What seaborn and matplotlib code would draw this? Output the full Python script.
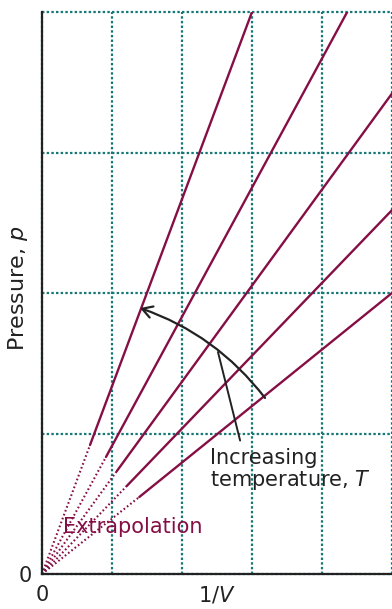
import numpy as np
import pandas as pd
import matplotlib
matplotlib.use("Agg")
import matplotlib.pyplot as plt
import seaborn as sns

# Isotherms: solid segment start (end of extrapolation) and end points
line_id = ["T1", "T2", "T3", "T4", "T5"]
solid_start_x = [0.686, 0.914, 1.07, 1.21, 1.39]
solid_start_p = [0.918, 0.833, 0.733, 0.626, 0.548]
solid_end_x = [3.0, 4.36, 5.0, 5.0, 5.0]
solid_end_p = [4.0, 4.0, 3.42, 2.59, 2.0]
origin_x = [0, 0, 0, 0, 0]
origin_p = [0, 0, 0, 0, 0]

x_ticks = [0, 1, 2, 3, 4, 5]
x_tick_labels = ["0", "", "", "", "", ""]
y_ticks = [0, 1, 2, 3, 4]
y_tick_labels = ["0", "", "", "", ""]

LINE = "#850f45"
GRID = "#187878"
INK = "#222222"

sns.set_theme(style="white")
plt.rcParams['font.family'] = ['DejaVu Sans']

solid = pd.DataFrame({
    "x": solid_start_x + solid_end_x,
    "p": solid_start_p + solid_end_p,
    "line": line_id + line_id,
})
extrap = pd.DataFrame({
    "x": origin_x + solid_start_x,
    "p": origin_p + solid_start_p,
    "line": line_id + line_id,
})

fig = plt.figure(figsize=(3.92, 6.09), dpi=100)
ax = fig.add_axes([42/392, 35/609, 350/392, 562/609])

sns.lineplot(data=solid, x="x", y="p", units="line", estimator=None,
             color=LINE, lw=1.7, ax=ax, sort=False, zorder=3)
sns.lineplot(data=extrap, x="x", y="p", units="line", estimator=None,
             color=LINE, lw=1.5, ax=ax, sort=False, zorder=3,
             linestyle=(0, (0.8, 1.2)))

ax.set_xlim(0, 5)
ax.set_ylim(0, 4)
ax.set_xticks(x_ticks)
ax.set_xticklabels(x_tick_labels, fontsize=15)
ax.set_yticks(y_ticks)
ax.set_yticklabels(y_tick_labels, fontsize=15)
ax.tick_params(axis="both", length=0, colors=INK)
ax.tick_params(axis="x", pad=8)
ax.tick_params(axis="y", pad=7)

ax.grid(True, color=GRID, lw=1.6, linestyle=(0, (1.1, 1.0)))
for gl in ax.get_xgridlines() + ax.get_ygridlines():
    gl.set_clip_on(False)
ax.set_axisbelow(True)

for s in ["top", "right"]:
    ax.spines[s].set_visible(False)
for s in ["left", "bottom"]:
    ax.spines[s].set_color(INK)
    ax.spines[s].set_linewidth(1.6)
    ax.spines[s].set_zorder(4)

ax.set_xlabel("1/$\\it{V}$", fontsize=15, color=INK)
ax.xaxis.set_label_coords(0.5, -0.018)
ax.set_ylabel("Pressure, $\\it{p}$", fontsize=16, color=INK)
ax.yaxis.set_label_coords(-0.034, 0.509)

ax.text(0.3, 0.335, "Extrapolation", fontsize=15, color=LINE, va="center", ha="left", zorder=5)
ax.text(2.4, 0.74, "Increasing\ntemperature, $\\it{T}$", fontsize=15, color=INK,
        va="center", ha="left", linespacing=1.0, zorder=5)

# curved arrow
ax.annotate("", xy=(1.4, 1.893), xytext=(3.186, 1.253),
            arrowprops=dict(arrowstyle="->,head_length=0.6,head_width=0.35", color=INK,
                            lw=1.6, connectionstyle="arc3,rad=0.15",
                            shrinkA=0, shrinkB=0), zorder=5)
# leader line
ax.plot([2.514, 2.83], [1.58, 0.95], color=INK, lw=1.4, zorder=5)

fig.savefig("out.png", dpi=100)
